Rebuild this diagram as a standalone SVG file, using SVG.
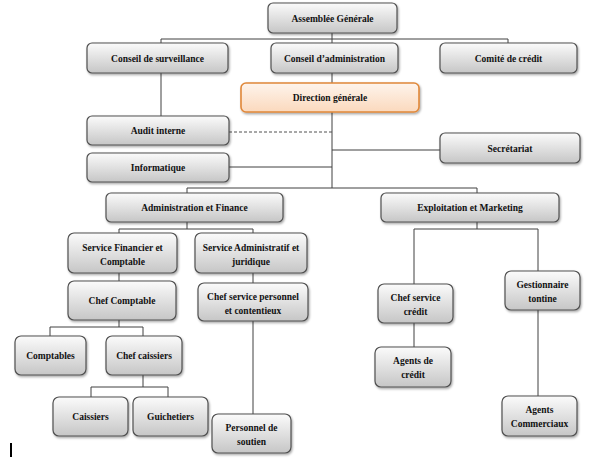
<svg xmlns="http://www.w3.org/2000/svg" width="616" height="462" viewBox="0 0 616 462">
<defs>
<linearGradient id="gGray" x1="0" y1="0" x2="0" y2="1">
<stop offset="0" stop-color="#fbfbfb"/>
<stop offset="1" stop-color="#c6c6c6"/>
</linearGradient>
<linearGradient id="gOrange" x1="0" y1="0" x2="0" y2="1">
<stop offset="0" stop-color="#fef4ec"/>
<stop offset="1" stop-color="#fbd9bd"/>
</linearGradient>
<filter id="sh" x="-10%" y="-10%" width="120%" height="130%">
<feDropShadow dx="1" dy="1.5" stdDeviation="1" flood-color="#000" flood-opacity="0.35"/>
</filter>
</defs>
<style>
.box{fill:url(#gGray);stroke:#505050;stroke-width:1.2;filter:url(#sh)}
.obox{fill:url(#gOrange);stroke:#e0883a;stroke-width:1.6;filter:url(#sh)}
text{font-weight:bold;font-size:9.5px;fill:#111111;text-anchor:middle}
.ln{stroke:#404040;stroke-width:1;fill:none}
.dash{stroke:#505050;stroke-width:1;stroke-dasharray:3 2;fill:none}
</style>
<rect width="616" height="462" fill="#ffffff"/>
<g id="connectors">
<path class="ln" d="M332 33V83"/>
<path class="ln" d="M161 43V39H508V43"/>
<path class="ln" d="M161 73V116"/>
<path class="ln" d="M332 112V188"/>
<path class="dash" d="M229 132H332"/>
<path class="ln" d="M332 150H440"/>
<path class="ln" d="M229 167H332"/>
<path class="ln" d="M187 193V188H477V193"/>
<path class="ln" d="M187 222V229"/>
<path class="ln" d="M119 233V229H253V233"/>
<path class="ln" d="M119 273V281"/>
<path class="ln" d="M253 273V283"/>
<path class="ln" d="M253 321V414"/>
<path class="ln" d="M119 320V327"/>
<path class="ln" d="M50 336V327H143V336"/>
<path class="ln" d="M143 375V387"/>
<path class="ln" d="M91 397V387H168V397"/>
<path class="ln" d="M477 222V229"/>
<path class="ln" d="M414 284V229H538V271"/>
<path class="ln" d="M414 323V347"/>
<path class="ln" d="M538 310V396"/>
</g>
<g font-family="'Liberation Serif', 'Times New Roman', serif">
<g id="n-ag"><rect class="box" x="268" y="3" width="129" height="30" rx="5"/><text x="332.5" y="21.5">Assemblée Générale</text></g>
<g id="n-cs"><rect class="box" x="87" y="43" width="141" height="30" rx="5"/><text x="157.5" y="61.5">Conseil de surveillance</text></g>
<g id="n-ca"><rect class="box" x="271" y="43" width="127" height="30" rx="5"/><text x="334.5" y="61.5">Conseil d’administration</text></g>
<g id="n-cc"><rect class="box" x="440" y="43" width="137" height="30" rx="5"/><text x="508.5" y="61.5">Comité de crédit</text></g>
<g id="n-dg"><rect class="obox" x="241" y="83" width="178" height="29" rx="5"/><text x="330" y="101">Direction générale</text></g>
<g id="n-ai"><rect class="box" x="87" y="116" width="142" height="29" rx="5"/><text x="158" y="134">Audit interne</text></g>
<g id="n-inf"><rect class="box" x="87" y="153" width="142" height="29" rx="5"/><text x="158" y="171">Informatique</text></g>
<g id="n-sec"><rect class="box" x="440" y="133" width="140" height="30" rx="5"/><text x="510" y="151.5">Secrétariat</text></g>
<g id="n-af"><rect class="box" x="106" y="193" width="177" height="29" rx="5"/><text x="194.5" y="211">Administration et Finance</text></g>
<g id="n-em"><rect class="box" x="381" y="193" width="178" height="29" rx="5"/><text x="470" y="211">Exploitation et Marketing</text></g>
<g id="n-sfc"><rect class="box" x="68" y="233" width="109" height="40" rx="6"/><text x="122.5" y="251">Service Financier et</text><text x="122.5" y="265">Comptable</text></g>
<g id="n-saj"><rect class="box" x="195" y="233" width="112" height="40" rx="6"/><text x="251" y="251">Service Administratif et</text><text x="251" y="265">juridique</text></g>
<g id="n-chc"><rect class="box" x="68" y="281" width="108" height="39" rx="6"/><text x="122" y="303.5">Chef Comptable</text></g>
<g id="n-csp"><rect class="box" x="198" y="283" width="110" height="38" rx="6"/><text x="253" y="299.5">Chef service personnel</text><text x="253" y="313.5">et contentieux</text></g>
<g id="n-cpt"><rect class="box" x="15" y="336" width="71" height="39" rx="6"/><text x="50.5" y="358.5">Comptables</text></g>
<g id="n-chca"><rect class="box" x="106" y="336" width="76" height="39" rx="6"/><text x="144" y="358.5">Chef caissiers</text></g>
<g id="n-cai"><rect class="box" x="53" y="397" width="75" height="39" rx="6"/><text x="90.5" y="419.5">Caissiers</text></g>
<g id="n-gui"><rect class="box" x="133" y="397" width="75" height="39" rx="6"/><text x="170.5" y="419.5">Guichetiers</text></g>
<g id="n-ps"><rect class="box" x="212" y="414" width="79" height="39" rx="6"/><text x="251.5" y="430.5">Personnel de</text><text x="251.5" y="444.5">soutien</text></g>
<g id="n-csc"><rect class="box" x="378" y="284" width="75" height="39" rx="6"/><text x="415.5" y="300.5">Chef service</text><text x="415.5" y="314.5">crédit</text></g>
<g id="n-gt"><rect class="box" x="505" y="271" width="75" height="39" rx="6"/><text x="542.5" y="287.5">Gestionnaire</text><text x="542.5" y="301.5">tontine</text></g>
<g id="n-adc"><rect class="box" x="375" y="347" width="76" height="40" rx="6"/><text x="413" y="364">Agents de</text><text x="413" y="378">crédit</text></g>
<g id="n-acom"><rect class="box" x="502" y="396" width="75" height="40" rx="6"/><text x="539.5" y="413">Agents</text><text x="539.5" y="427">Commerciaux</text></g>
</g>
<rect x="10" y="443" width="2" height="14" fill="#000"/>
</svg>
